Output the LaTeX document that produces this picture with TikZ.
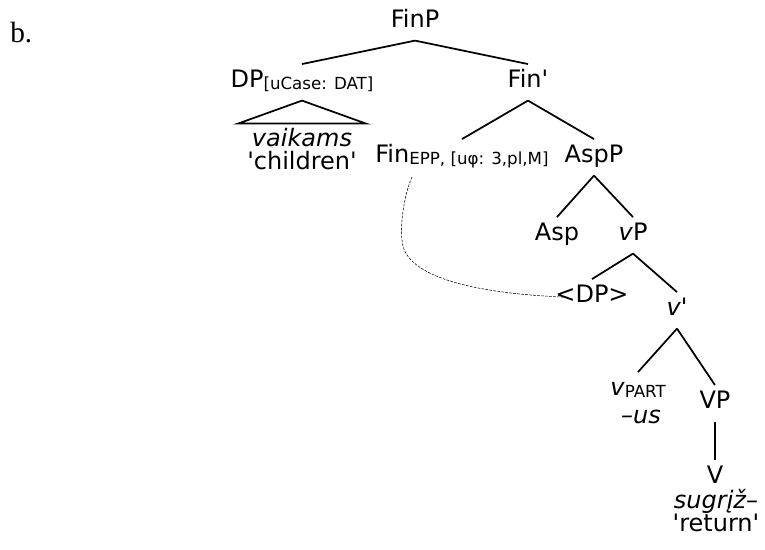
\documentclass[tikz,border=0pt]{standalone}
\usepackage{fontspec}
\setmainfont{DejaVu Sans}
\newfontfamily\serifb{Liberation Serif}
\usetikzlibrary{positioning}
\newcommand{\sq}{\textquotesingle}
\newcommand{\feat}[1]{{\fontsize{12.5}{14}\selectfont\raisebox{-2pt}{#1}}}

\begin{document}
\begin{tikzpicture}[x=0.75pt,y=-0.75pt]
        %styles
        \tikzstyle{cat}=[font=\fontsize{18}{21}\selectfont, anchor=base, inner sep=4pt, text height=13pt, text depth=6pt]
        \tikzstyle{leaf}=[font=\fontsize{18}{21}\selectfont, anchor=base, inner sep=0pt]
        \tikzstyle{branch}=[line width=1.3pt]
        \tikzstyle{trace}=[thin, dash pattern=on 2pt off 1pt]

        \useasboundingbox (0,0) rectangle (765,550);

        %nodes
        \node[font=\serifb\fontsize{22}{26}\selectfont, anchor=base west, inner sep=0pt] (ex) at (10,42) {b.};
        \node[cat] (finp) at (415,27) {FinP};
        \node[cat] (dp) at (302,87) {DP\feat{[uCase: DAT]}};
        \node[cat] (finbar) at (528,87) {Fin\sq};
        \node[leaf] (vaikams) at (302,146) {\textit{vaikams}};
        \node[leaf] (children) at (302,169) {\sq children\sq};
        \node[cat] (fin) at (462,162) {Fin\feat{EPP, [uφ: 3,pl,M]}};
        \node[cat] (aspp) at (594,162) {AspP};
        \node[cat] (asp) at (557,240) {Asp};
        \node[cat] (vp) at (633,240) {\textit{v}P};
        \node[cat] (dptrace) at (592,302) {<DP>};
        \node[cat] (vbar) at (677,315) {\textit{v\sq}};
        \node[cat] (vpart) at (638,395) {\textit{v}\feat{PART}};
        \node[leaf] (us) at (641,423) {\textit{–us}};
        \node[cat] (vpbig) at (715,408) {VP};
        \node[cat, inner ysep=0pt, text height=17pt, text depth=0pt] (verb) at (715,483) {V};
        \node[leaf] (sugrizh) at (716,508) {\textit{sugrįž–}};
        \node[leaf] (return) at (716,531) {\sq return\sq};

        %branches
        \draw[branch] (finp.south) -- (dp.north);
        \draw[branch] (finp.south) -- (finbar.north);
        \draw[branch] (dp.south) -- ++(-64,23) -- ++(128,0) -- cycle;
        \draw[branch] (finbar.south) -- (fin.north);
        \draw[branch] (finbar.south) -- (aspp.north);
        \draw[branch] (aspp.south) -- (asp.north);
        \draw[branch] (aspp.south) -- (vp.north);
        \draw[branch] (vp.south) -- (dptrace.north);
        \draw[branch] (vp.south) -- (vbar.north);
        \draw[branch] (vbar.south) -- (vpart.north);
        \draw[branch] (vbar.south) -- (vpbig.north);
        \draw[branch] (vpbig.south) -- (verb.north);

        %trace
        \draw[trace] ([xshift=-37.5pt,yshift=-1pt]fin.south) .. controls +(-8,18) and +(-2,-15) .. (402,240)
            .. controls +(1,28) and +(-123,-5) .. ([xshift=14pt]dptrace.west);
\end{tikzpicture}
\end{document}
